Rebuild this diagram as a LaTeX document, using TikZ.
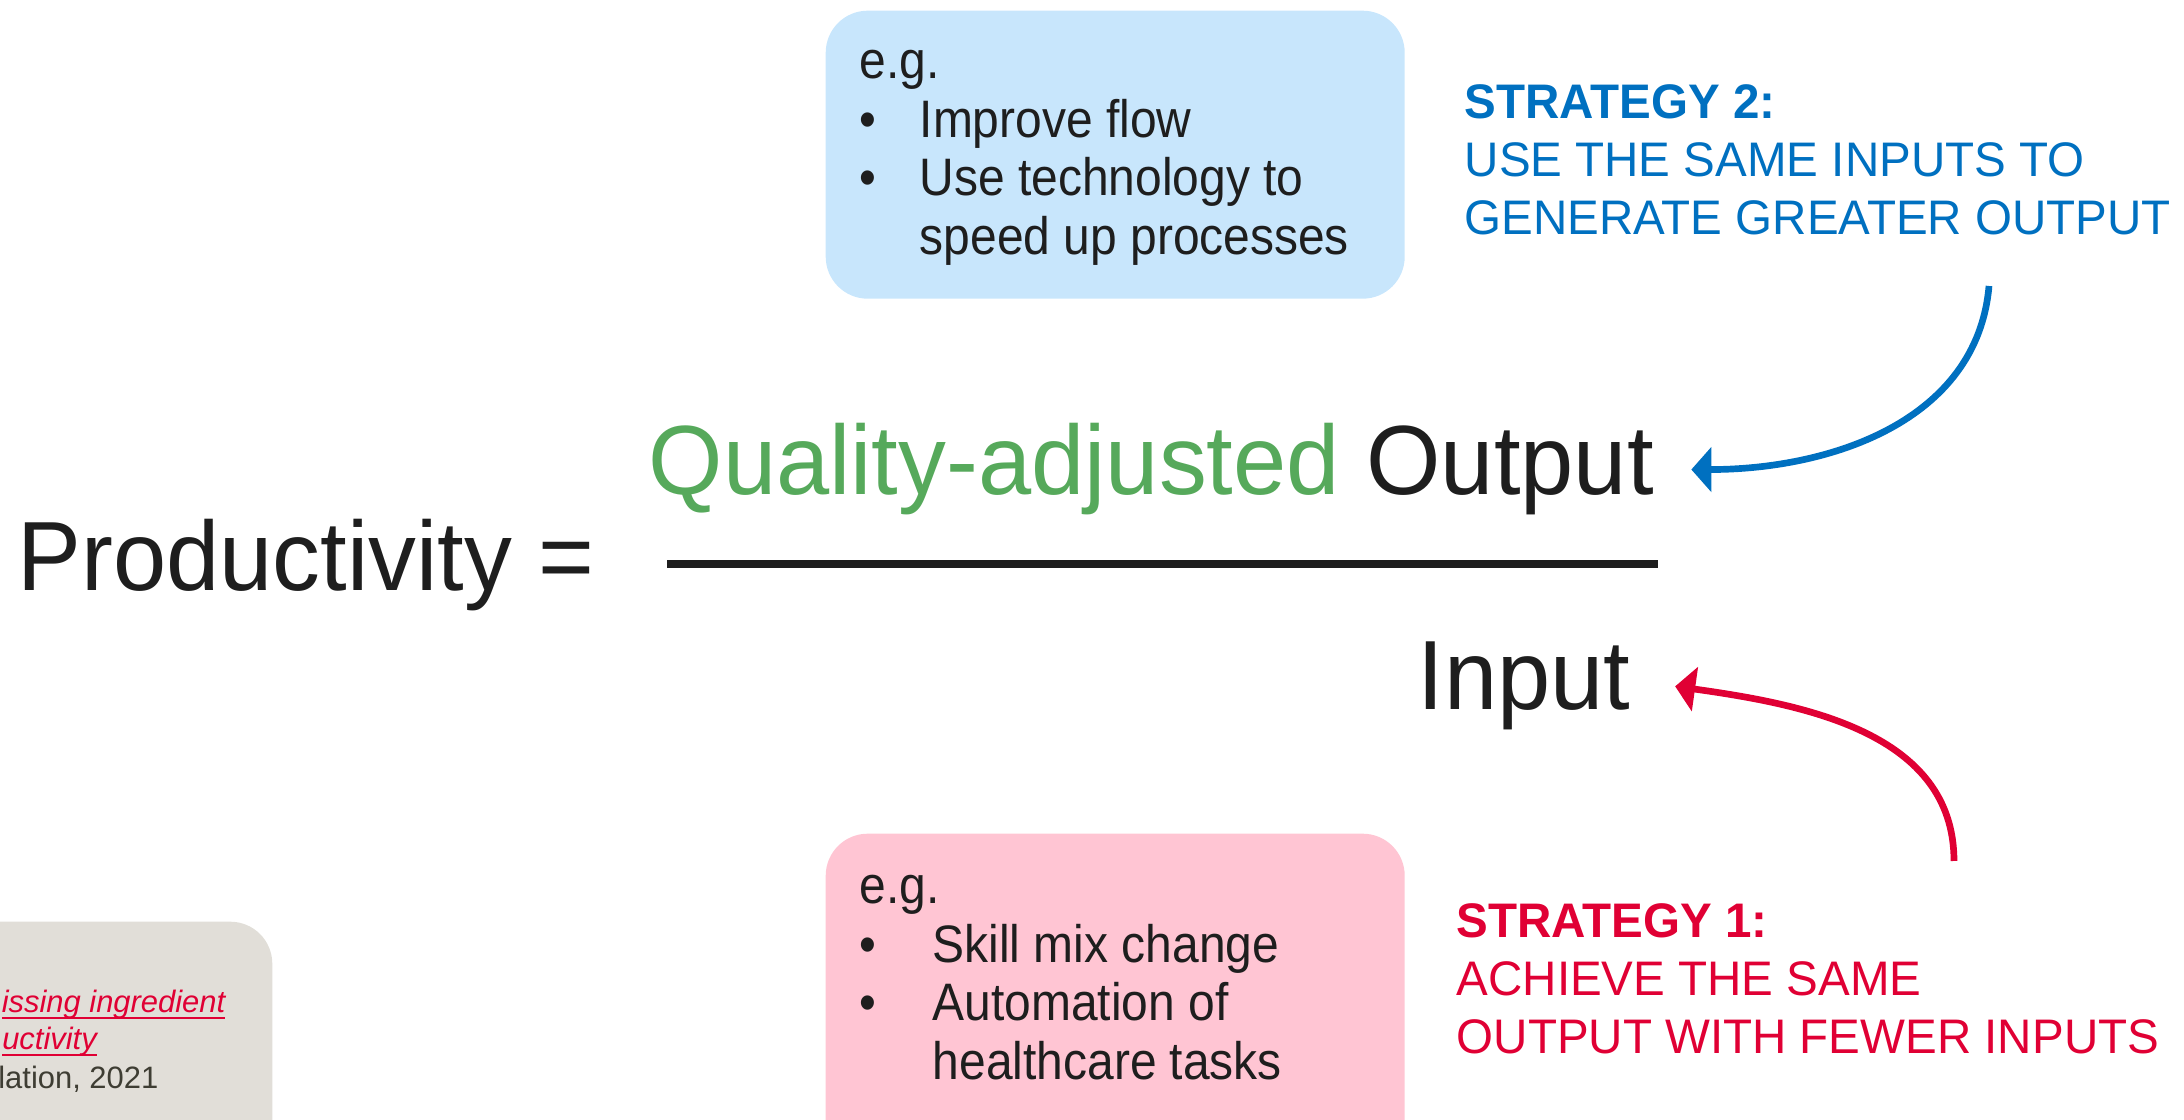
\documentclass[tikz,border=0pt]{standalone}
\usepackage{fontspec}
\setmainfont{Liberation Sans}
\newfontfamily\listfont{Liberation Sans}[FakeStretch=0.91]
\newfontfamily\termfont{Liberation Sans}[FakeStretch=0.972]
\newfontfamily\stratfont{Liberation Sans}[FakeStretch=0.98]
\usepackage{xcolor}
\usetikzlibrary{arrows.meta,positioning,calc}
\definecolor{stratblue}{HTML}{0070C0}
\definecolor{stratred}{HTML}{E00034}
\definecolor{qualgreen}{HTML}{56A95B}
\definecolor{inkblack}{HTML}{1E1E1E}
\definecolor{boxblue}{HTML}{C8E6FC}
\definecolor{boxpink}{HTML}{FFC5D3}
\definecolor{boxgrey}{HTML}{E1DED8}
\definecolor{refgrey}{HTML}{3E3D33}
\newcommand{\srclink}[1]{\underline{\smash{\itshape #1}}}
\tikzset{
  egbox/.style={rounded corners=0.42cm,minimum width=5.79cm,inner sep=0,anchor=north west},
  eglist/.style={anchor=base west,inner sep=0,font=\listfont\fontsize{15}{16.6}\selectfont,text=inkblack},
  bigterm/.style={anchor=base west,inner sep=0,font=\termfont\fontsize{28}{32}\selectfont,text=inkblack},
  stratlabel/.style={anchor=base west,inner sep=0,align=left,font=\stratfont\fontsize{13.8}{16.6}\selectfont},
  sourcetext/.style={anchor=base east,inner sep=0,font=\fontsize{8.8}{10.7}\selectfont},
  strategyarrow/.style={line width=1.9pt,-{Triangle[length=2mm,width=4.4mm]}}
}

\begin{document}
\begin{tikzpicture}
	\useasboundingbox (0,0) rectangle (21.84,11.20);
	\clip (0,0) rectangle (21.84,11.20);
	% example boxes
	\node[egbox,fill=boxblue,minimum height=2.88cm] (boxtop) at (8.25,11.10) {};
	\node[egbox,fill=boxpink,minimum height=3.6cm] (boxbot) at (8.25,2.87) {};
	\node[egbox,fill=boxgrey,minimum width=4cm,minimum height=3cm,anchor=north east] (boxsrc) at (2.73,1.99) {};
	\node[eglist] (listtop) at (8.59,10.41) {\begin{tabular}[t]{@{}p{0.6cm}@{}l@{}}
		\multicolumn{2}{@{}l}{e.g.}\\
		\textbullet & Improve flow\\
		\textbullet & Use technology to\\
		& speed up processes
	\end{tabular}};
	\node[eglist] (listbot) at (8.59,2.16) {\begin{tabular}[t]{@{}p{0.73cm}@{}l@{}}
		\multicolumn{2}{@{}l}{e.g.}\\
		\textbullet & Skill mix change\\
		\textbullet & Automation of\\
		& healthcare tasks
	\end{tabular}};
	% source note
	\node[sourcetext,text=stratred] (srcA) at (2.26,1.07) {\srclink{issing ingredient}};
	\node[sourcetext,text=stratred] (srcB) at (0.975,0.70) {\srclink{uctivity}};
	\node[sourcetext,text=refgrey] (srcC) at (1.59,0.31) {lation, 2021};
	% the ratio
	\node[bigterm] (prod) at (0.17,5.29) {Productivity =};
	\node[bigterm] (num) at (6.48,6.25) {\textcolor{qualgreen}{Quality-adjusted} Output};
	\node[bigterm] (den) at (14.17,4.10) {Input};
	\coordinate (barL) at (6.67,5.56);
	\coordinate (barR) at (16.58,5.56);
	\draw[line width=2pt,inkblack] (barL) -- (barR);
	% strategies
	\node[stratlabel,text=stratblue] (strat2) at (14.64,8.85) {\textbf{STRATEGY 2:}\\USE THE SAME INPUTS TO\\GENERATE GREATER OUTPUT};
	\node[stratlabel,text=stratred] (strat1) at (14.56,0.66) {\textbf{STRATEGY 1:}\\ACHIEVE THE SAME\\OUTPUT WITH FEWER INPUTS};
	\coordinate (s2top) at (19.89,8.34);
	\coordinate (s1top) at (19.54,2.59);
	\draw[strategyarrow,stratblue] (s2top) to[out=-95,in=0] ([xshift=0.37cm]num.east);
	\draw[strategyarrow,stratred] (s1top) to[out=90,in=-8] ([xshift=0.44cm]den.east);
\end{tikzpicture}
\end{document}
